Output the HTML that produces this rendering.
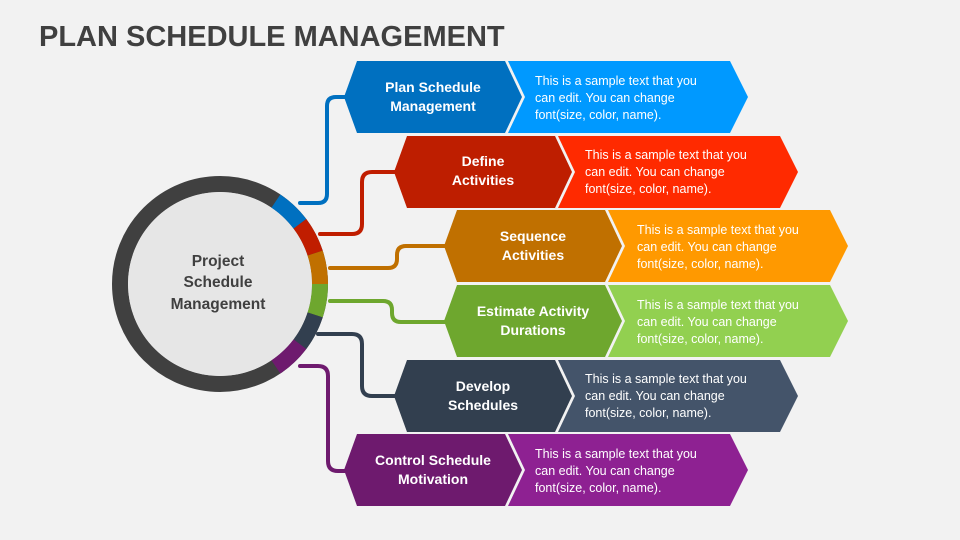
<!DOCTYPE html>
<html><head><meta charset="utf-8"><style>
html,body{margin:0;padding:0;background:#f2f2f2;}
svg{display:block}
text{font-family:"Liberation Sans",sans-serif;}
</style></head><body>
<svg width="960" height="540" viewBox="0 0 960 540" xmlns="http://www.w3.org/2000/svg">
<rect width="960" height="540" fill="#f2f2f2"/>
<text x="39" y="46" font-size="29" font-weight="bold" fill="#404040">PLAN SCHEDULE MANAGEMENT</text>

<!-- connectors -->
<g fill="none" stroke-width="4" stroke-linecap="round">
<path d="M300,203 H318 Q327,203 327,194 V106 Q327,97 336,97 H346" stroke="#0070c0"/>
<path d="M320,234 H352 Q362,234 362,224 V182 Q362,172 372,172 H396" stroke="#c01d00"/>
<path d="M330,268 H388 Q397,268 397,259 V255 Q397,246 406,246 H446" stroke="#c07000"/>
<path d="M330,301 H383 Q392,301 392,310 V313 Q392,322 401,322 H446" stroke="#6ea72e"/>
<path d="M318,334 H352 Q362,334 362,344 V386 Q362,396 372,396 H396" stroke="#323f4f"/>
<path d="M300,366 H318 Q328,366 328,376 V461 Q328,471 338,471 H346" stroke="#6e1a6e"/>
</g>

<!-- circle -->
<circle cx="220" cy="284" r="100" fill="none" stroke="#404040" stroke-width="16"/>
<g fill="none" stroke-width="16">
<path d="M275.9,201.1 A100,100 0 0 1 299.9,223.8" stroke="#0070c0"/>
<path d="M299.9,223.8 A100,100 0 0 1 315.1,253.1" stroke="#c01d00"/>
<path d="M315.1,253.1 A100,100 0 0 1 320,284" stroke="#c07000"/>
<path d="M320,284 A100,100 0 0 1 315.1,314.9" stroke="#6ea72e"/>
<path d="M315.1,314.9 A100,100 0 0 1 299.9,344.2" stroke="#323f4f"/>
<path d="M299.9,344.2 A100,100 0 0 1 275.9,366.9" stroke="#6e1a6e"/>
</g>
<circle cx="220" cy="284" r="92" fill="#e6e6e6"/>
<g font-size="15.5" font-weight="bold" fill="#404040" text-anchor="middle">
<text x="218" y="266">Project</text>
<text x="218" y="287">Schedule</text>
<text x="218" y="309">Management</text>
</g>

<!-- rows -->
<g font-size="12.5" fill="#fff">
<polygon points="344,97 357,61 505,61 522,97 505,133 357,133" fill="#0070c0"/>
<polygon points="508,61 730,61 748,97 730,133 508,133 525,97" fill="#0099ff"/>
<text x="433" y="92" font-size="14" font-weight="bold" text-anchor="middle">Plan Schedule</text>
<text x="433" y="111" font-size="14" font-weight="bold" text-anchor="middle">Management</text>
<text x="535" y="85">This is a sample text that you</text>
<text x="535" y="102">can edit. You can change</text>
<text x="535" y="119">font(size, color, name).</text>

<polygon points="394,172 407,136 555,136 572,172 555,208 407,208" fill="#be1e00"/>
<polygon points="558,136 780,136 798,172 780,208 558,208 575,172" fill="#ff2a00"/>
<text x="483" y="166" font-size="14" font-weight="bold" text-anchor="middle">Define</text>
<text x="483" y="185" font-size="14" font-weight="bold" text-anchor="middle">Activities</text>
<text x="585" y="159">This is a sample text that you</text>
<text x="585" y="176">can edit. You can change</text>
<text x="585" y="193">font(size, color, name).</text>

<polygon points="444,246 457,210 605,210 622,246 605,282 457,282" fill="#c07000"/>
<polygon points="608,210 830,210 848,246 830,282 608,282 625,246" fill="#ff9900"/>
<text x="533" y="241" font-size="14" font-weight="bold" text-anchor="middle">Sequence</text>
<text x="533" y="260" font-size="14" font-weight="bold" text-anchor="middle">Activities</text>
<text x="637" y="234">This is a sample text that you</text>
<text x="637" y="251">can edit. You can change</text>
<text x="637" y="268">font(size, color, name).</text>

<polygon points="444,321 457,285 605,285 622,321 605,357 457,357" fill="#6ea72e"/>
<polygon points="608,285 830,285 848,321 830,357 608,357 625,321" fill="#92d050"/>
<text x="533" y="316" font-size="14" font-weight="bold" text-anchor="middle">Estimate Activity</text>
<text x="533" y="335" font-size="14" font-weight="bold" text-anchor="middle">Durations</text>
<text x="637" y="309">This is a sample text that you</text>
<text x="637" y="326">can edit. You can change</text>
<text x="637" y="343">font(size, color, name).</text>

<polygon points="394,396 407,360 555,360 572,396 555,432 407,432" fill="#323f4f"/>
<polygon points="558,360 780,360 798,396 780,432 558,432 575,396" fill="#44546a"/>
<text x="483" y="391" font-size="14" font-weight="bold" text-anchor="middle">Develop</text>
<text x="483" y="410" font-size="14" font-weight="bold" text-anchor="middle">Schedules</text>
<text x="585" y="383">This is a sample text that you</text>
<text x="585" y="400">can edit. You can change</text>
<text x="585" y="417">font(size, color, name).</text>

<polygon points="344,470 357,434 505,434 522,470 505,506 357,506" fill="#6e1a6e"/>
<polygon points="508,434 730,434 748,470 730,506 508,506 525,470" fill="#8e2192"/>
<text x="433" y="465" font-size="14" font-weight="bold" text-anchor="middle">Control Schedule</text>
<text x="433" y="484" font-size="14" font-weight="bold" text-anchor="middle">Motivation</text>
<text x="535" y="458">This is a sample text that you</text>
<text x="535" y="475">can edit. You can change</text>
<text x="535" y="492">font(size, color, name).</text>
</g>
</svg>
</body></html>
